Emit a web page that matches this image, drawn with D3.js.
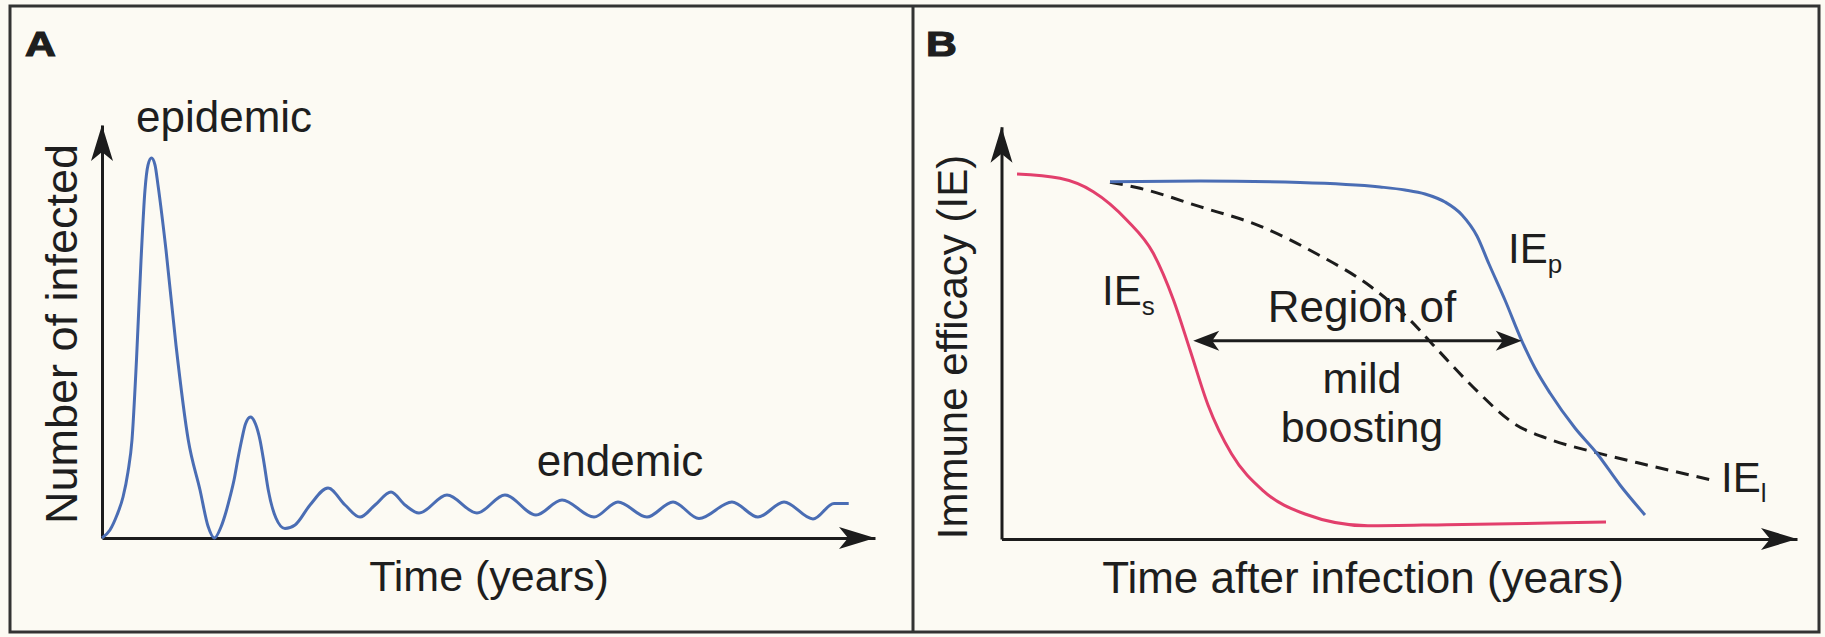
<!DOCTYPE html>
<html><head><meta charset="utf-8">
<script src="https://cdn.jsdelivr.net/npm/d3@7"></script>
<style>
html,body{margin:0;padding:0;background:#fcfaf3;}
svg{display:block;}
text{font-family:"Liberation Sans",Arial,Helvetica,sans-serif;fill:#1e1e1e;}
</style>
</head><body>
<svg id="chart" width="1825" height="637"></svg>
<script>
// ---------- Panel A data (time 0-100, infected 0-100, arbitrary units) ----------
const timeA = [0,1.03,1.94,2.72,3.36,3.88,4.46,5.05,5.56,5.95,6.4,6.86,7.24,8.28,9.57,11.16,12.68,13.71,14.55,15.39,16.04,16.56,17.08,17.6,18.07,18.56,19.21,19.86,20.44,20.96,21.51,22.5,23.67,24.97,26.91,29.24,31.44,33.38,35.32,37.39,39.2,41.01,44.63,48.51,52.13,56.14,59.51,63.65,66.75,70.5,73.87,77.23,81.5,84.86,88.23,91.98,94.7,96.6];
const infected = [0,1.94,5.57,9.93,15.98,23.73,43.1,67.31,84.26,90.3,92.0,90.3,85.5,69.73,46.73,23.73,11.62,2.91,0,2.66,6.3,9.93,14.04,19.37,23.73,27.6,29.3,27.6,23.73,18.16,11.62,4.84,2.3,3.15,7.99,12.1,7.99,5.08,7.99,11.14,7.99,6.05,10.41,6.05,10.41,5.57,9.2,5.08,8.72,5.08,8.72,4.72,8.72,5.08,8.72,4.6,8.35,8.35];

// ---------- Panel B data (time after infection 0-100, immune efficacy 0-100) ----------
const timeS = [1.95,7.35,11.54,15.74,19.08,21.62,23.7,25.96,28.91,32.87,38.15,46.07,56.0,65.93,75.99];
const ieS   = [88.53,87.48,84.24,77.37,69.29,57.97,45.84,32.5,20.66,11.74,6.06,3.2,3.47,3.78,4.12];

const timeP = [13.64,24.95,37.52,47.58,50.72,53.24,55.75,57.89,59.77,61.28,63.29,65.39,67.06,68.95,72.09,74.86,77.75,80.89];
const ieP   = [86.66,86.83,86.47,85.38,84.65,83.68,81.74,78.59,73.49,66.7,57.97,48.14,41.47,35.41,26.92,20.74,13.1,5.82];

const timeL = [13.64,17.41,24.95,32.5,39.66,46.32,51.48,54.62,59.27,64.43,69.33,74.48,81.14,89.28];
const ieL   = [86.54,85.06,80.6,75.9,69.12,61.36,52.87,46.33,36.87,28.01,23.89,21.1,17.95,14.31];

// region of mild boosting (double arrow)
const regionStart = 24.1, regionEnd = 65.4, regionLevel = 48.1;

// ---------- drawing ----------
const svg = d3.select("#chart");
const ink = "#1c1c1c";
const blue = "#4a6db4";
const red = "#e23f6c";

// frame
svg.append("rect").attr("x",10).attr("y",6).attr("width",1809).attr("height",626)
  .attr("fill","none").attr("stroke","#333").attr("stroke-width",3);
svg.append("line").attr("x1",913).attr("x2",913).attr("y1",6).attr("y2",632)
  .attr("stroke","#333").attr("stroke-width",3);

function arrowHead(g, x, y, dir) {
  const L = 36, W = 11, N = 27;
  let pts;
  if (dir === "up") pts = [[x,y],[x+W,y+L],[x,y+N],[x-W,y+L]];
  else pts = [[x,y],[x-L,y-W],[x-N,y],[x-L,y+W]];
  g.append("path").attr("d","M"+pts.map(p=>p.join(",")).join("L")+"Z").attr("fill",ink);
}
function smallHead(g, x, y, dir) {
  const L = 26, W = 10, N = 19;
  const s = dir === "left" ? 1 : -1;
  const pts = [[x,y],[x+s*L,y-W],[x+s*N,y],[x+s*L,y+W]];
  g.append("path").attr("d","M"+pts.map(p=>p.join(",")).join("L")+"Z").attr("fill",ink);
}

function drawAxes(g, x, y) {
  g.append("g").attr("transform",`translate(0,${y.range()[0]})`)
    .call(d3.axisBottom(x).tickValues([]).tickSizeOuter(0));
  g.append("g").attr("transform",`translate(${x.range()[0]},0)`)
    .call(d3.axisLeft(y).tickValues([]).tickSizeOuter(0));
  g.selectAll(".domain").attr("stroke",ink).attr("stroke-width",3);
  arrowHead(g, x.range()[1], y.range()[0], "right");
  arrowHead(g, x.range()[0], y.range()[1], "up");
}

function panelLetter(x, y, s) {
  svg.append("text").attr("transform",`translate(${x},${y}) scale(1.22,1)`)
    .attr("font-size",35).attr("font-weight","bold")
    .attr("stroke","#1e1e1e").attr("stroke-width",1.2).text(s);
}

// ----- Panel A -----
const xA = d3.scaleLinear().domain([0,100]).range([102,875]);
const yA = d3.scaleLinear().domain([0,100]).range([538,125]);
const gA = svg.append("g");
drawAxes(gA, xA, yA);
const lineA = d3.line().x(d=>xA(d[0])).y(d=>yA(d[1])).curve(d3.curveMonotoneX);
gA.append("path").datum(timeA.map((t,i)=>[t,infected[i]]))
  .attr("d",lineA).attr("fill","none").attr("stroke",blue).attr("stroke-width",3);

panelLetter(25, 56, "A");
gA.append("text").attr("x",136).attr("y",132).attr("font-size",44).text("epidemic");
gA.append("text").attr("x",620).attr("y",476).attr("font-size",44).attr("text-anchor","middle").text("endemic");
gA.append("text").attr("transform","translate(77,334) rotate(-90)").attr("font-size",45)
  .attr("text-anchor","middle").text("Number of infected");
gA.append("text").attr("x",489).attr("y",591).attr("font-size",43).attr("text-anchor","middle").text("Time (years)");

// ----- Panel B -----
const xB = d3.scaleLinear().domain([0,100]).range([1001.5,1797]);
const yB = d3.scaleLinear().domain([0,100]).range([539,126.7]);
const gB = svg.append("g");
drawAxes(gB, xB, yB);
const lineB = d3.line().x(d=>xB(d[0])).y(d=>yB(d[1])).curve(d3.curveMonotoneX);
gB.append("path").datum(timeL.map((t,i)=>[t,ieL[i]]))
  .attr("d",lineB).attr("fill","none").attr("stroke",ink).attr("stroke-width",3)
  .attr("stroke-dasharray","13,8");
gB.append("path").datum(timeS.map((t,i)=>[t,ieS[i]]))
  .attr("d",lineB).attr("fill","none").attr("stroke",red).attr("stroke-width",3);
gB.append("path").datum(timeP.map((t,i)=>[t,ieP[i]]))
  .attr("d",lineB).attr("fill","none").attr("stroke",blue).attr("stroke-width",3);

// double arrow
const ry = yB(regionLevel);
gB.append("line").attr("x1",xB(regionStart)+10).attr("x2",xB(regionEnd)-10)
  .attr("y1",ry).attr("y2",ry).attr("stroke",ink).attr("stroke-width",3);
smallHead(gB, xB(regionStart), ry, "left");
smallHead(gB, xB(regionEnd), ry, "right");

panelLetter(926, 56, "B");
gB.append("text").attr("transform","translate(967,347) rotate(-90)").attr("font-size",42)
  .attr("text-anchor","middle").text("Immune efficacy (IE)");
gB.append("text").attr("x",1363).attr("y",593).attr("font-size",44).attr("text-anchor","middle").text("Time after infection (years)");
gB.append("text").attr("x",1362).attr("y",322).attr("font-size",44).attr("text-anchor","middle").text("Region of");
gB.append("text").attr("x",1362).attr("y",393).attr("font-size",43).attr("text-anchor","middle").text("mild");
gB.append("text").attr("x",1362).attr("y",442).attr("font-size",43).attr("text-anchor","middle").text("boosting");

function ieLabel(x, y, sub) {
  const t = gB.append("text").attr("x",x).attr("y",y).attr("font-size",42);
  t.append("tspan").text("IE");
  t.append("tspan").attr("font-size",26).attr("dy",10).text(sub);
}
ieLabel(1102, 305, "s");
ieLabel(1508, 263, "p");
ieLabel(1721, 492, "l");
</script>
</body></html>
